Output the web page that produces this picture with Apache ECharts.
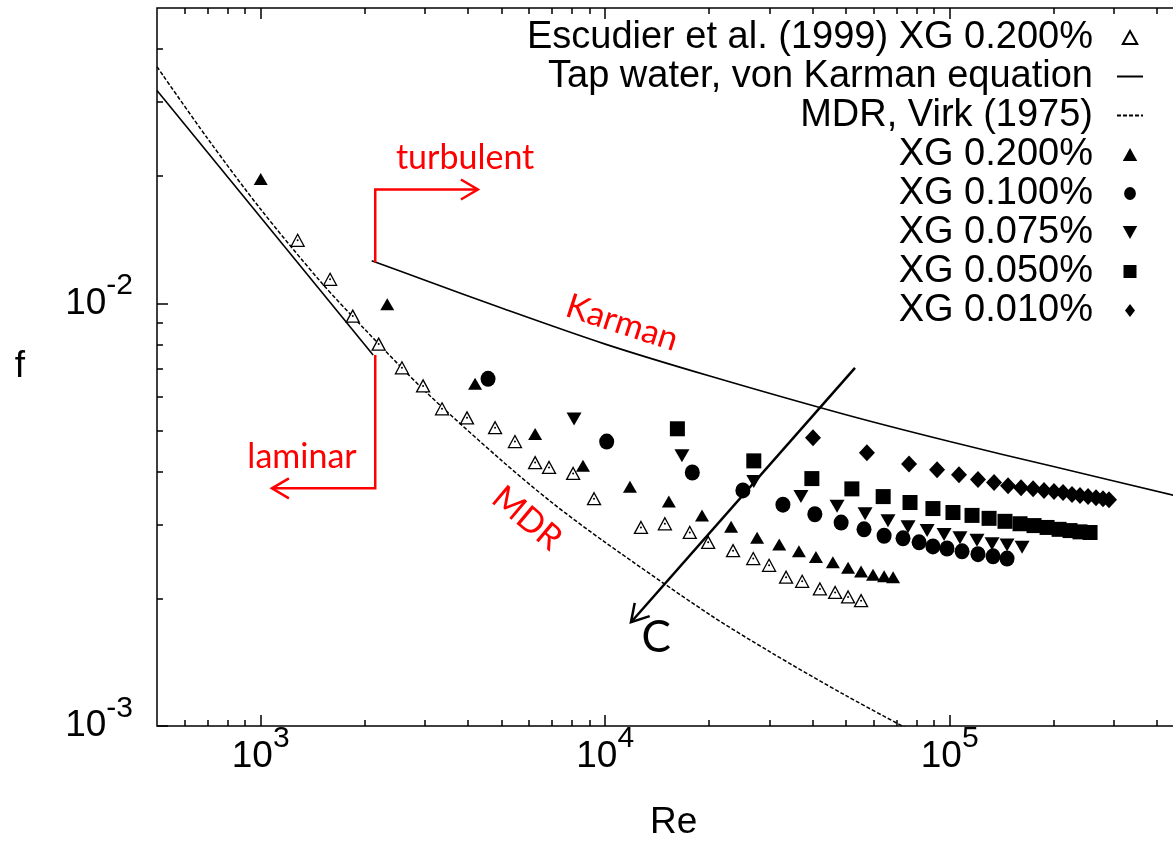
<!DOCTYPE html>
<html><head><meta charset="utf-8">
<script src="https://cdn.jsdelivr.net/npm/echarts@6/dist/echarts.min.js"></script>
<style>html,body{margin:0;padding:0;background:#fff}#c{width:1173px;height:844px}</style>
</head><body><div id="c"></div>
<script>
// ---------- data ----------
const escudierRe = [1280,1590,1850,2200,2570,2960,3360,3970,4790,5470,6260,6870,8070,9280,12700,14900,17600,19900,23500,26900,29900,33500,37300,42000,46500,50700,55300];
const escudierF  = [0.0141,0.0114,0.00933,0.00801,0.00704,0.00638,0.00563,0.00536,0.00508,0.00471,0.00420,0.00409,0.00396,0.00345,0.00295,0.00301,0.00287,0.00272,0.00260,0.00249,0.00240,0.00225,0.00220,0.00211,0.00207,0.00202,0.00198];

const xg200Re = [1000,2330,4190,6260,8620,11800,15300,19100,23200,27600,32000,36500,40900,45800,50700,55300,59900,64500,68500];
const xg200F  = [0.0197,0.00996,0.00645,0.00491,0.00413,0.00368,0.00340,0.00315,0.00296,0.00279,0.00269,0.00259,0.00251,0.00244,0.00237,0.00232,0.00228,0.00226,0.00225];

const xg100Re = [4570,10100,17900,25100,32800,40600,48400,56400,64500,73200,81500,89400,98200,108600,120800,133600,146700];
const xg100F  = [0.00663,0.00471,0.00398,0.00361,0.00334,0.00317,0.00303,0.00292,0.00282,0.00278,0.00272,0.00266,0.00263,0.00259,0.00255,0.00252,0.00249];

const xg075Re = [8120,16700,27000,37000,47100,56800,66200,75700,86000,96300,107100,120000,132700,146700,162200];
const xg075F  = [0.00533,0.00436,0.00379,0.00349,0.00331,0.00318,0.00306,0.00296,0.00290,0.00284,0.00279,0.00275,0.00270,0.00268,0.00265];

const xg050Re = [16200,27000,39800,52000,64100,76700,89400,102200,116100,130100,144700,160000,175700,191700,207700,223500,238900,255500];
const xg050F  = [0.00505,0.00424,0.00385,0.00364,0.00349,0.00338,0.00327,0.00320,0.00315,0.00310,0.00305,0.00301,0.00298,0.00295,0.00292,0.00290,0.00288,0.00287];

const xg010Re = [40100,57500,76200,91900,106400,120800,134500,147700,161100,174600,187800,200800,213300,226500,238900,252100,265900,278600,290000];
const xg010F  = [0.00481,0.00443,0.00417,0.00404,0.00393,0.00383,0.00377,0.00370,0.00366,0.00364,0.00361,0.00359,0.00357,0.00353,0.00351,0.00349,0.00347,0.00345,0.00343];

const karmanRe = [2100,3000,5000,10000,20000,50000,100000,200000,500000];
const karmanF  = [0.01262,0.01135,0.00975,0.00801,0.00674,0.00545,0.00471,0.00411,0.00344];

const laminarRe = [500,2120];
const laminarF  = [0.0319,0.00755];

const mdrRe = [500,700,1000,1500,2000,3000,5000,7000,10000,20000,30000,50000,80000];
const mdrF  = [0.0363,0.0246,0.0167,0.0112,0.0087,0.0062,0.00425,0.00338,0.00272,0.00184,0.0015,0.00118,0.00096];

// tick positions / labels
const xMajorTicks = [1000,10000,100000];
const xMinorTicks = [600,700,800,900,2000,3000,4000,5000,6000,7000,8000,9000,20000,30000,40000,50000,60000,70000,80000,90000,200000,300000,400000];
const yMajorTicks = [0.001,0.01];
const yMinorTicks = [0.002,0.003,0.004,0.005,0.006,0.007,0.008,0.009,0.02,0.03,0.04];

const seriesNames = ['Escudier et al. (1999) XG 0.200%','Tap water, von Karman equation','MDR, Virk (1975)','XG 0.200%','XG 0.100%','XG 0.075%','XG 0.050%','XG 0.010%'];

// annotations (data coordinates)
const turbulentBracket = [[2150,0.0125],[2150,0.0186],[4270,0.0186]];
const laminarBracket   = [[2150,0.00755],[2150,0.00365],[1078,0.00365]];
const cArrow           = [[53100,0.00704],[11880,0.00176]];
const annoTexts = [
  {text:'turbulent', at:[3920,0.0221], color:'#ff0000', size:34, rot:0},
  {text:'laminar',   at:[1318,0.00433], color:'#ff0000', size:34, rot:0},
  {text:'Karman',    at:[11190,0.00899], color:'#ff0000', size:34, rot:-18},
  {text:'MDR',       at:[5930,0.0031], color:'#ff0000', size:34, rot:-40},
  {text:'C',         at:[14050,0.00162], color:'#000000', size:44, rot:0}
];

// ---------- chart ----------
const zip = (a,b) => a.map((v,i)=>[v,b[i]]);
const AX = 'Liberation Sans, Arial, sans-serif';
const ANN = 'Lato, Open Sans, sans-serif';

const pow10 = v => Math.round(Math.log10(v));
const richLbl = {
  b:{fontSize:37, lineHeight:37, fontFamily:AX, color:'#000', verticalAlign:'bottom'},
  s:{fontSize:30, lineHeight:30, fontFamily:AX, color:'#000', verticalAlign:'bottom', padding:[0,0,21,0]}
};
const fmt = v => '{b|10}{s|' + pow10(v) + '}';

function xAx(pos, ticks, len, labels){
  return {
    type:'log', logBase:10, min:500, max:500000, position:pos,
    axisLine:{show:false},
    axisTick:{show:true, inside:true, length:len, customValues:ticks, lineStyle:{color:'#000', width:1.5}},
    minorTick:{show:false}, splitLine:{show:false},
    axisLabel: labels ? {show:true, customValues:xMajorTicks, formatter:fmt, margin:12, rich:richLbl} : {show:false},
    name: labels ? 'Re' : '', nameLocation:'middle', nameGap:78,
    nameTextStyle:{fontFamily:AX, fontSize:37, color:'#000'}
  };
}
function yAx(ticks, len, labels){
  return {
    type:'log', logBase:10, min:0.001, max:0.05, position:'left',
    axisLine:{show:false},
    axisTick:{show:true, inside:true, length:len, customValues:ticks, lineStyle:{color:'#000', width:1.5}},
    minorTick:{show:false}, splitLine:{show:false},
    axisLabel: labels ? {show:true, customValues:yMajorTicks, formatter:fmt, margin:24, rich:richLbl} : {show:false},
    name: labels ? 'f' : '', nameLocation:'middle', nameGap:132, nameRotate:0,
    nameTextStyle:{fontFamily:AX, fontSize:37, color:'#000'}
  };
}

function sc(name, re, f, symbol, size, filled, rot){
  return {
    name, type:'scatter', data: zip(re,f), symbol, symbolSize:size, symbolRotate: rot||0,
    itemStyle: filled ? {color:'#000', borderColor:'#000', borderWidth:0, opacity:1}
                      : {color:'#fff', borderColor:'#000', borderWidth:1.3, opacity:1},
    z:5, emphasis:{disabled:true}
  };
}

const option = {
  animation:false,
  backgroundColor:'#fff',
  grid:{left:157, top:8, right:-17.5, bottom:118, show:true, borderColor:'#000', borderWidth:1.5, backgroundColor:'transparent', outerBoundsMode:'none'},
  xAxis:[ xAx('bottom', xMajorTicks, 11, true), xAx('bottom', xMinorTicks, 6, false),
          xAx('top', xMajorTicks, 11, false), xAx('top', xMinorTicks, 6, false) ],
  yAxis:[ yAx(yMajorTicks, 11, true), yAx(yMinorTicks, 6, false) ],
  legend:{
    orient:'vertical', right:29, top:18, padding:0, align:'right',
    itemWidth:26, itemHeight:13, itemGap:0, selectedMode:false, symbolKeepAspect:true,
    textStyle:{fontFamily:AX, fontSize:38, color:'#000', lineHeight:39, padding:[0,19,0,0]},
    data: [
      {name:seriesNames[0], icon:'path://M5,0L10,9L0,9Z'},
      {name:seriesNames[1]},
      {name:seriesNames[2]},
      {name:seriesNames[3], icon:'path://M5,0L10,9L0,9Z'},
      {name:seriesNames[4], icon:'path://M5,0A5,5.5,0,1,1,4.99,0Z'},
      {name:seriesNames[5], icon:'path://M0,0L10,0L5,9Z'},
      {name:seriesNames[6], icon:'path://M0,0L10,0L10,10L0,10Z'},
      {name:seriesNames[7], icon:'path://M5,0L10,6.5L5,13L0,6.5Z'}
    ]
  },
  series:[
    {name:seriesNames[1], type:'line', data:zip(laminarRe,laminarF), symbol:'none', itemStyle:{color:'rgba(0,0,0,0)'}, lineStyle:{color:'#000', width:1.6}, z:2},
    {name:seriesNames[1], type:'line', data:zip(karmanRe,karmanF), symbol:'none', smooth:0.3, itemStyle:{color:'rgba(0,0,0,0)'}, lineStyle:{color:'#000', width:1.6}, z:2},
    {name:seriesNames[2], type:'line', data:zip(mdrRe,mdrF), symbol:'none', smooth:0.3, itemStyle:{color:'rgba(0,0,0,0)'}, lineStyle:{color:'#000', width:1.5, type:[4,2]}, z:2},
    sc(seriesNames[0], escudierRe, escudierF, 'triangle', [13,12], false),
    {type:'scatter', data:zip(escudierRe,escudierF), symbol:'circle', symbolSize:2, itemStyle:{color:'#000', opacity:1}, z:6, silent:true},
    sc(seriesNames[3], xg200Re, xg200F, 'triangle', [14,12], true),
    sc(seriesNames[4], xg100Re, xg100F, 'circle', [15,16], true),
    sc(seriesNames[5], xg075Re, xg075F, 'triangle', [15,13], true, 180),
    sc(seriesNames[6], xg050Re, xg050F, 'rect', [15,15], true),
    sc(seriesNames[7], xg010Re, xg010F, 'diamond', [16,17], true)
  ]
};

const chart = echarts.init(document.getElementById('c'), null, {renderer:'canvas'});
chart.setOption(option);

// annotations via the chart's own coordinate conversion
const P = p => chart.convertToPixel({xAxisIndex:0, yAxisIndex:0}, p);
function head(tip, from, len, spread){
  const dx = tip[0]-from[0], dy = tip[1]-from[1], L = Math.hypot(dx,dy);
  const ux = dx/L, uy = dy/L, bx = tip[0]-ux*len, by = tip[1]-uy*len;
  return [[bx - uy*spread, by + ux*spread], tip, [bx + uy*spread, by - ux*spread]];
}
const gfx = [];
function arrowPath(pts, color){
  const px = pts.map(P);
  gfx.push({type:'polyline', shape:{points:px}, style:{stroke:color, lineWidth:2.5, fill:'none'}, z:20});
  gfx.push({type:'polyline', shape:{points:head(px[px.length-1], px[px.length-2], 17, 10)}, style:{stroke:color, lineWidth:2.5, fill:'none'}, z:20});
}
arrowPath(turbulentBracket, '#ff0000');
arrowPath(laminarBracket, '#ff0000');
arrowPath(cArrow, '#000000');
annoTexts.forEach(t => {
  const p = P(t.at);
  gfx.push({type:'text', x:p[0], y:p[1], rotation:t.rot*Math.PI/180, z:21,
    style:{text:t.text, fill:t.color, font: t.size + 'px ' + ANN, align:'center', verticalAlign:'middle'}});
});
chart.setOption({graphic: gfx});
</script>
</body></html>
